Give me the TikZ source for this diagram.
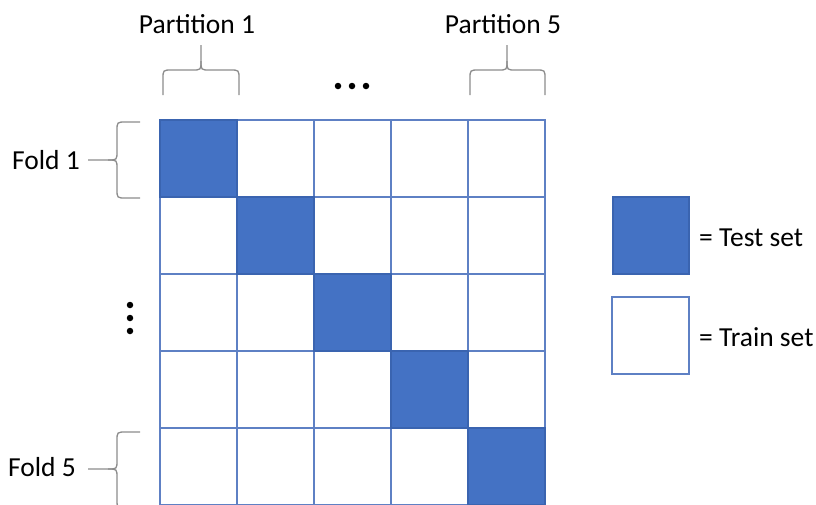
\documentclass[tikz,border=0pt]{standalone}
\usepackage{fontspec}
\setmainfont{Carlito}
\definecolor{testblue}{HTML}{4472C4}
\definecolor{testedge}{HTML}{3A64B0}
\definecolor{trainedge}{HTML}{5E80C4}
\definecolor{bracegray}{HTML}{8C8C8C}
\begin{document}
\begin{tikzpicture}[
    x=1pt, y=-1pt,
    cell/.style={draw=trainedge, line width=1.3pt},
    testcell/.style={fill=testblue, draw=testedge, line width=1.3pt},
    brace/.style={draw=bracegray, line width=1.3pt},
    txt/.style={font=\fontsize{27.5}{32}\selectfont, inner sep=0pt},
    dot/.style={circle, fill=black, minimum size=6.5pt, inner sep=0pt}
]
  \useasboundingbox (0,0) rectangle (816,504);
  % --- the five folds, one partition of each held out ---------------------
  \foreach \r in {0,...,4} {
    \foreach \c in {0,...,4} {
      \draw[cell] ({160+77*\c},{120+77*\r}) rectangle ++(77,77);
    }
  }
  \foreach \i in {0,...,4} { \draw[testcell] ({160+77*\i},{120+77*\i}) rectangle ++(77,77); }
  % --- partitions along the top -------------------------------------------
  \node[txt] (part1) at (197,24) {Partition 1};
  \node[txt] (part5) at (503,24) {Partition 5};
  \foreach \xa/\xm/\xb in {163/201/239, 470/507/545} {
    \draw[brace] (\xa,95) -- (\xa,79) .. controls (\xa,70) .. (\xa+9,70) -- (\xm-9,70)
      .. controls (\xm,70) .. (\xm,61) -- (\xm,45);
    \draw[brace] (\xb,95) -- (\xb,79) .. controls (\xb,70) .. (\xb-9,70) -- (\xm+9,70)
      .. controls (\xm,70) .. (\xm,61);
  }
  \foreach \x in {338,352,366} { \node[dot] at (\x,86) {}; }
  % --- folds down the side ------------------------------------------------
  \node[txt, anchor=east] (fold1) at (80,160) {Fold 1};
  \node[txt, anchor=east] (fold5) at (76,467) {Fold 5};
  \foreach \ya/\ym/\yb in {122/160/198, 432/469/508} {
    \draw[brace] (140,\ya) -- (126,\ya) .. controls (117,\ya) .. (117,\ya+9) -- (117,\ym-9)
      .. controls (117,\ym) .. (108,\ym) -- (88,\ym);
    \draw[brace] (140,\yb) -- (126,\yb) .. controls (117,\yb) .. (117,\yb-9) -- (117,\ym+9)
      .. controls (117,\ym) .. (108,\ym);
  }
  \foreach \y in {305,318,331} { \node[dot] at (130,\y) {}; }
  % --- legend -------------------------------------------------------------
  \draw[testcell] (613,197) rectangle (689,274);
  \draw[cell] (612,297) rectangle (689,374);
  \node[txt, anchor=west] (testlbl) at (699,238) {= Test set};
  \node[txt, anchor=west] (trainlbl) at (699,337) {= Train set};
\end{tikzpicture}
\end{document}
